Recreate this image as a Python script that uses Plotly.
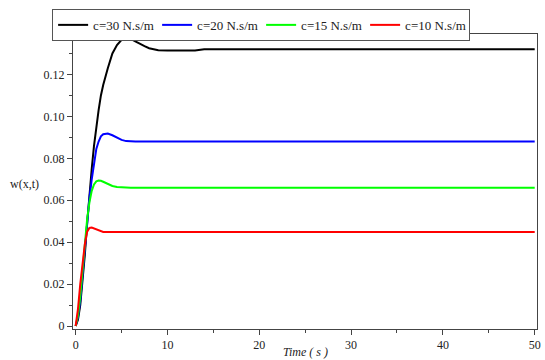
import plotly.graph_objects as go

# Time samples (s)
t = [0, 0.25, 0.5, 0.75, 1, 1.25, 1.5, 1.75, 2, 2.25, 2.5, 2.75, 3, 3.5, 4,
     4.5, 5, 5.5, 6, 6.5, 7, 7.5, 8, 9, 10, 13, 14, 50]

# Deflection w(x,t) for each damping coefficient
w_c30 = [0, 0.003, 0.010, 0.021, 0.034, 0.049, 0.063, 0.075, 0.086, 0.095,
         0.103, 0.110, 0.115, 0.123, 0.130, 0.134, 0.1365, 0.1375, 0.137,
         0.1358, 0.1345, 0.1335, 0.1325, 0.1316, 0.1314, 0.1314, 0.132, 0.132]
w_c20 = [0, 0.004, 0.012, 0.024, 0.037, 0.050, 0.061, 0.070, 0.078, 0.0845,
         0.088, 0.0905, 0.0915, 0.0918, 0.091, 0.0898, 0.0888, 0.0882, 0.088,
         0.088, 0.088, 0.088, 0.088, 0.088, 0.088, 0.088, 0.088, 0.088]
w_c15 = [0, 0.005, 0.014, 0.027, 0.040, 0.051, 0.059, 0.0645, 0.0675, 0.069,
         0.0694, 0.0693, 0.0688, 0.0676, 0.0668, 0.0663, 0.0661, 0.066, 0.066,
         0.066, 0.066, 0.066, 0.066, 0.066, 0.066, 0.066, 0.066, 0.066]
w_c10 = [0, 0.008, 0.020, 0.031, 0.039, 0.045, 0.0468, 0.047, 0.0466, 0.046,
         0.0455, 0.0451, 0.0449, 0.0449, 0.0449, 0.0449, 0.0449, 0.0449, 0.0449,
         0.0449, 0.0449, 0.0449, 0.0449, 0.0449, 0.0449, 0.0449, 0.0449, 0.0449]

series_names = ["c=30 N.s/m", "c=20 N.s/m", "c=15 N.s/m", "c=10 N.s/m"]
series_values = [w_c30, w_c20, w_c15, w_c10]
series_colors = ["#000000", "#0000ff", "#00ff00", "#ff0000"]

FONT = "Liberation Serif"

fig = go.Figure()
for name, vals, col in zip(series_names, series_values, series_colors):
    fig.add_trace(go.Scatter(x=t, y=vals, mode="lines", name=name,
                             line=dict(color=col, width=2)))

axis_common = dict(
    showgrid=False, zeroline=False, showline=True, mirror=True,
    linecolor="#444444", linewidth=1, ticks="outside", ticklen=5,
    tickcolor="#444444", tickfont=dict(family=FONT, size=12, color="#222222"),
)

fig.update_xaxes(range=[-0.29, 50.25], dtick=10, tick0=0,
                 minor=dict(dtick=5, ticks="outside", ticklen=3, tickcolor="#444444"),
                 **axis_common)
fig.update_yaxes(range=[-0.00143, 0.1393], dtick=0.02, tick0=0,
                 tickvals=[0, 0.02, 0.04, 0.06, 0.08, 0.10, 0.12],
                 ticktext=["0", "0.02", "0.04", "0.06", "0.08", "0.10", "0.12"],
                 minor=dict(dtick=0.01, ticks="outside", ticklen=3, tickcolor="#444444"),
                 **axis_common)

fig.add_annotation(text="w(x,t)", xref="paper", yref="paper", x=-0.1047, y=0.4915,
                   xanchor="center", yanchor="middle", showarrow=False,
                   font=dict(family=FONT, size=12, color="#222222"))
fig.add_annotation(text="<i>Time ( s )</i>", xref="paper", yref="paper", x=0.5, y=-0.078,
                   xanchor="center", yanchor="middle", showarrow=False,
                   font=dict(family=FONT, size=12, color="#222222"))

fig.update_layout(
    width=545, height=360,
    margin=dict(l=73, r=4, t=34, b=31),
    paper_bgcolor="white", plot_bgcolor="white",
    font=dict(family=FONT, color="#222222"),
    legend=dict(orientation="h", x=-0.045, y=1.085, xanchor="left", yanchor="top",
                bordercolor="#555555", borderwidth=1, bgcolor="white",
                font=dict(family=FONT, size=13, color="#222222"),
                itemwidth=30, tracegroupgap=0, entrywidth=59, entrywidthmode="pixels"),
)

fig.write_html("out.html")
